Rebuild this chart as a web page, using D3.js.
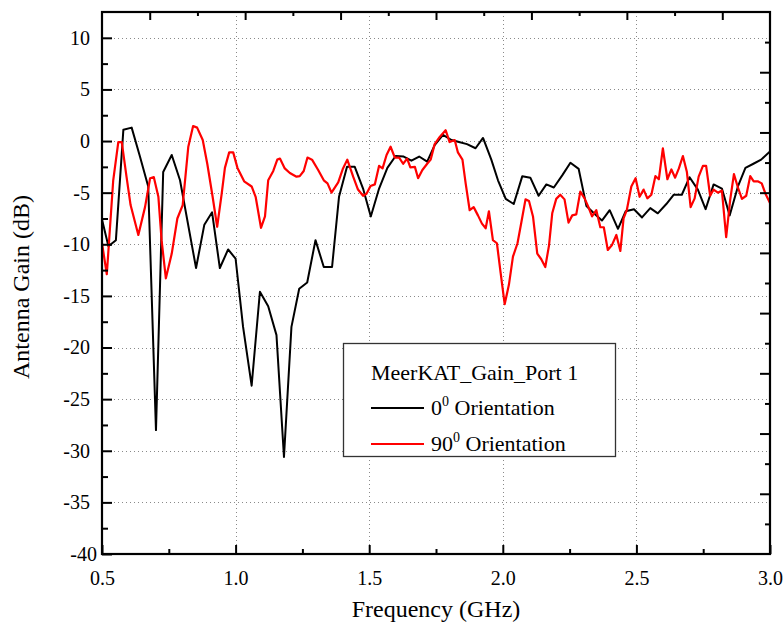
<!DOCTYPE html>
<html>
<head>
<meta charset="utf-8">
<script src="https://cdn.jsdelivr.net/npm/d3@7"></script>
<style>
  body { margin: 0; background: #fff; }
  svg text { font-family: "Liberation Serif", "Times New Roman", Times, "DejaVu Serif", serif !important; }
</style>
</head>
<body>
<svg id="chart" width="783" height="628"></svg>
<script>
// 0 deg orientation (black)
const freq0 = [0.50,0.524,0.552,0.580,0.611,0.642,0.673,0.702,0.729,0.761,0.792,0.852,0.883,0.912,0.941,0.972,1.000,
  1.028,1.060,1.091,1.122,1.153,1.181,1.209,1.238,1.268,1.299,1.330,1.361,1.387,1.417,1.446,1.477,1.506,1.537,1.568,
  1.599,1.629,1.658,1.687,1.717,1.745,1.776,1.808,1.836,1.866,1.898,1.926,1.957,1.982,2.011,2.041,2.073,2.103,2.134,
  2.163,2.191,2.223,2.253,2.284,2.313,2.341,2.371,2.400,2.431,2.460,2.491,2.521,2.552,2.580,2.612,2.640,2.670,2.699,
  2.730,2.759,2.789,2.820,2.849,2.880,2.908,2.938,2.967,3.000];
const gain0 = [-7.6,-10.2,-9.6,1.1,1.3,-1.5,-4.4,-28.0,-3.0,-1.35,-3.8,-12.3,-8.1,-6.9,-12.3,-10.5,-11.4,
  -18.0,-23.7,-14.6,-16.0,-18.8,-30.6,-18.0,-14.3,-13.7,-9.6,-12.2,-12.2,-5.4,-2.5,-2.5,-4.6,-7.3,-4.6,-2.6,
  -1.45,-1.5,-1.9,-1.5,-2.0,-0.4,0.6,0.1,-0.1,-0.3,-0.7,0.3,-1.8,-3.8,-5.6,-6.1,-3.4,-3.55,-5.3,
  -4.2,-4.5,-3.3,-2.1,-2.7,-6.3,-7.0,-7.7,-6.7,-8.5,-6.8,-6.6,-7.4,-6.5,-7.0,-6.1,-5.2,-5.2,-3.5,
  -4.7,-6.6,-4.2,-4.6,-7.2,-4.4,-2.6,-2.2,-1.8,-1.0];

// 90 deg orientation (red)
const freq90 = [0.50,0.518,0.542,0.561,0.574,0.592,0.607,0.636,0.661,0.680,0.694,0.711,0.723,0.739,0.761,0.782,0.802,
  0.823,0.841,0.856,0.877,0.894,0.914,0.931,0.948,0.960,0.976,0.991,1.007,1.032,1.060,1.075,1.095,1.110,1.122,1.141,
  1.156,1.166,1.184,1.203,1.228,1.240,1.255,1.269,1.286,1.309,1.330,1.344,1.359,1.384,1.402,1.418,1.440,1.458,1.477,
  1.490,1.505,1.521,1.537,1.550,1.565,1.580,1.596,1.612,1.627,1.642,1.654,1.671,1.683,1.699,1.717,1.730,1.745,1.764,
  1.786,1.801,1.820,1.832,1.849,1.861,1.876,1.891,1.907,1.922,1.936,1.948,1.963,1.978,1.992,2.007,2.023,2.038,2.055,
  2.070,2.085,2.098,2.113,2.129,2.144,2.159,2.173,2.185,2.200,2.215,2.231,2.246,2.260,2.275,2.290,2.306,2.319,2.334,
  2.350,2.365,2.378,2.393,2.408,2.425,2.440,2.452,2.464,2.481,2.497,2.512,2.527,2.541,2.556,2.571,2.584,2.599,2.616,
  2.631,2.645,2.659,2.674,2.689,2.703,2.718,2.733,2.749,2.761,2.776,2.789,2.805,2.820,2.836,2.851,2.865,2.880,2.895,
  2.911,2.926,2.939,2.954,2.969,2.983,3.000];
const gain90 = [-9.9,-12.9,-3.8,-0.1,-0.1,-3.5,-6.2,-9.1,-6.4,-3.6,-3.5,-5.4,-9.6,-13.3,-10.9,-7.5,-6.2,
  -0.55,1.45,1.3,0.1,-2.2,-5.4,-8.3,-5.1,-2.6,-1.1,-1.1,-2.6,-3.9,-4.4,-5.4,-8.4,-7.3,-3.8,-2.9,
  -1.8,-1.7,-2.65,-3.1,-3.45,-3.4,-2.9,-1.6,-1.8,-2.8,-3.8,-4.1,-5.0,-4.0,-2.65,-1.8,-3.45,-4.7,-5.3,
  -5.1,-4.35,-4.2,-2.4,-2.65,-1.35,-0.55,-1.6,-1.6,-2.2,-1.7,-2.55,-2.5,-3.6,-2.8,-2.2,-1.8,-0.3,0.4,
  1.05,-0.1,0.1,-1.1,-1.8,-4.1,-6.7,-6.4,-7.2,-8.0,-8.45,-6.8,-9.6,-9.9,-12.8,-15.8,-13.9,-11.2,-9.9,
  -7.8,-5.65,-5.8,-7.3,-10.9,-11.45,-12.2,-10.1,-7.0,-5.6,-5.2,-5.65,-7.9,-7.2,-7.1,-4.9,-5.55,-6.3,-7.3,
  -6.7,-8.35,-8.35,-10.55,-10.1,-9.1,-10.65,-7.5,-6.7,-4.4,-3.6,-5.4,-4.7,-5.55,-5.2,-3.4,-3.7,-0.7,-3.7,
  -2.75,-3.55,-2.65,-1.45,-3.0,-6.4,-5.55,-3.45,-2.4,-2.4,-5.3,-4.7,-5.0,-4.8,-9.3,-5.7,-3.2,-4.5,-5.6,
  -5.3,-3.4,-3.9,-3.9,-4.1,-5.1,-6.0];

const xTicks = [0.5, 1.0, 1.5, 2.0, 2.5, 3.0];
const xMinor = [0.75, 1.25, 1.75, 2.25, 2.75];
const yTicks = [10, 5, 0, -5, -10, -15, -20, -25, -30, -35, -40];
const yMinor = [7.5, 2.5, -2.5, -7.5, -12.5, -17.5, -22.5, -27.5, -32.5, -37.5];

const svg = d3.select("#chart");
const margin = { top: 12, right: 13, bottom: 74, left: 102 };
const W = 783, H = 628;
const x0 = margin.left, x1 = W - margin.right, y0 = margin.top, y1 = H - margin.bottom;

const x = d3.scaleLinear().domain([0.5, 3.0]).range([x0, x1]);
const y = d3.scaleLinear().domain([-40, 12.5]).range([y1, y0]);
// opposite axes in the original are not linked to the data scales
const xTop = d3.scaleLinear().domain([0, 14]).range([x0, x1]);
const yRight = d3.scaleLinear().domain([0, 18]).range([y1, y0]);

svg.append("defs").append("clipPath").attr("id", "clip")
  .append("rect").attr("x", x0).attr("y", y0).attr("width", x1 - x0).attr("height", y1 - y0);

// grid
const grid = svg.append("g").attr("stroke", "#8a8a8a").attr("stroke-width", 1).attr("stroke-dasharray", "1,3");
grid.selectAll(".gx").data(xTicks.slice(1, -1)).enter().append("line")
  .attr("x1", d => Math.round(x(d)) + 0.5).attr("x2", d => Math.round(x(d)) + 0.5)
  .attr("y1", y0).attr("y2", y1);
grid.selectAll(".gy").data(yTicks.slice(0, -1)).enter().append("line")
  .attr("y1", d => Math.round(y(d)) + 0.5).attr("y2", d => Math.round(y(d)) + 0.5)
  .attr("x1", x0).attr("x2", x1);

// curves
const line = d3.line().x(d => x(d[0])).y(d => y(d[1]));
const plot = svg.append("g").attr("clip-path", "url(#clip)");
plot.append("path").datum(d3.zip(freq0, gain0))
  .attr("fill", "none").attr("stroke", "#000").attr("stroke-width", 2).attr("stroke-linejoin", "round")
  .attr("d", line);
plot.append("path").datum(d3.zip(freq90, gain90))
  .attr("fill", "none").attr("stroke", "#ff0000").attr("stroke-width", 2.2).attr("stroke-linejoin", "round")
  .attr("d", line);

// axes
svg.append("g").attr("transform", `translate(0,${y1})`)
  .call(d3.axisBottom(x).tickValues(xTicks).tickSize(-9).tickPadding(17).tickFormat(d3.format(".1f")));
svg.append("g").attr("transform", `translate(0,${y1})`)
  .call(d3.axisBottom(x).tickValues(xMinor).tickSize(-5).tickFormat(""));
svg.append("g").attr("transform", `translate(${x0},0)`)
  .call(d3.axisLeft(y).tickValues(yTicks).tickSize(-10).tickPadding(12).tickFormat(d => String(d)))
  .selectAll(".tick text").filter(d => d === -40).attr("dx", 7);
svg.append("g").attr("transform", `translate(${x0},0)`)
  .call(d3.axisLeft(y).tickValues(yMinor).tickSize(-6).tickFormat(""));
svg.append("g").attr("transform", `translate(0,${y0})`)
  .call(d3.axisTop(xTop).tickValues(d3.range(1, 14)).tickSize(0).tickFormat(""))
  .selectAll(".tick line").attr("y2", d => d % 2 ? 8 : 4);
svg.append("g").attr("transform", `translate(${x1},0)`)
  .call(d3.axisRight(yRight).tickValues(d3.range(1, 18)).tickSize(0).tickFormat(""))
  .selectAll(".tick line").attr("x2", d => d % 2 ? -5 : -10);

svg.selectAll(".domain").remove();
svg.selectAll(".tick line").attr("stroke", "#000").attr("stroke-width", 2);
svg.selectAll(".tick text").attr("font-size", 20).attr("fill", "#000");

// frame
svg.append("rect").attr("x", x0).attr("y", y0).attr("width", x1 - x0).attr("height", y1 - y0)
  .attr("fill", "none").attr("stroke", "#000").attr("stroke-width", 2.2);

// axis titles
svg.append("text").attr("x", (x0 + x1) / 2).attr("y", 617).attr("text-anchor", "middle")
  .attr("font-size", 24).text("Frequency (GHz)");
svg.append("text").attr("transform", `translate(29,${(y0 + y1) / 2 + 4}) rotate(-90)`)
  .attr("text-anchor", "middle").attr("font-size", 24).text("Antenna Gain (dB)");

// legend
const legend = svg.append("g");
legend.append("rect").attr("x", 343.5).attr("y", 343.5).attr("width", 272).attr("height", 113)
  .attr("fill", "#fff").attr("stroke", "#333").attr("stroke-width", 1.3);
legend.append("text").attr("x", 371).attr("y", 380).attr("font-size", 22).text("MeerKAT_Gain_Port 1");
const items = [
  { deg: "0", color: "#000", y: 408 },
  { deg: "90", color: "#ff0000", y: 444 }
];
items.forEach(it => {
  legend.append("line").attr("x1", 371).attr("x2", 424).attr("y1", it.y).attr("y2", it.y)
    .attr("stroke", it.color).attr("stroke-width", 2);
  const t = legend.append("text").attr("x", 431).attr("y", it.y + 7).attr("font-size", 22);
  t.append("tspan").text(it.deg);
  t.append("tspan").attr("dy", -9).attr("font-size", 14).text("0");
  t.append("tspan").attr("dy", 9).text(" Orientation");
});
</script>
</body>
</html>
